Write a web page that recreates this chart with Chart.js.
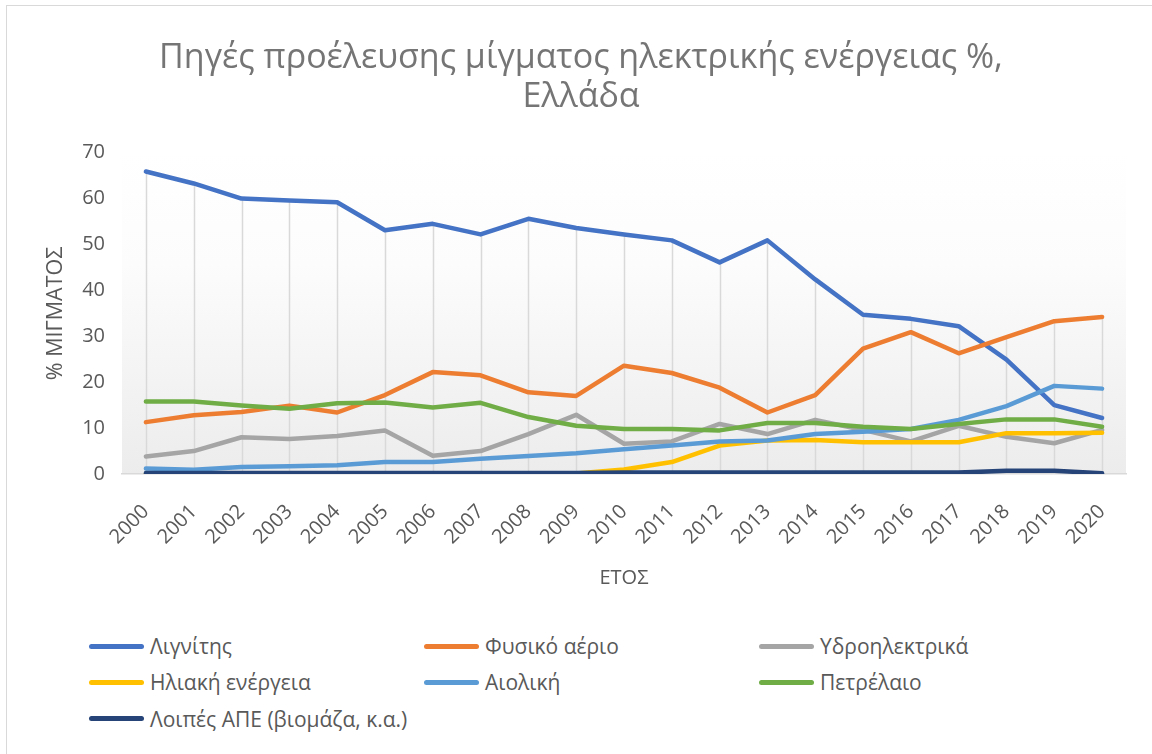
<!DOCTYPE html>
<html>
<head>
<meta charset="utf-8">
<script src="https://cdn.jsdelivr.net/npm/chart.js@4/dist/chart.umd.min.js"></script>
<style>
  html, body { margin: 0; padding: 0; background: #ffffff; width: 1152px; height: 754px; overflow: hidden; }
  #frame { position: absolute; left: 6px; top: 5px; width: 1200px; height: 800px; border: 1.5px solid #d9d9d9; box-sizing: border-box; }
  #wrap { position: absolute; left: 0; top: 0; width: 1162px; height: 610px; }
  #legend { position: absolute; left: 89px; top: 628px; display: grid; grid-template-columns: 335px 335px 335px;
            font-family: 'Open Sans', sans-serif; font-size: 21px; color: #595959; }
  .item { display: flex; align-items: center; height: 36.3px; white-space: nowrap; }
  .swatch { width: 55px; height: 5px; border-radius: 3px; margin-right: 6px; flex: none; }
</style>
</head>
<body>
<div id="frame"></div>
<div id="wrap"><canvas id="c"></canvas></div>
<div id="legend"></div>
<script>
// ---- data ----
const years = ['2000','2001','2002','2003','2004','2005','2006','2007','2008','2009','2010',
               '2011','2012','2013','2014','2015','2016','2017','2018','2019','2020'];
const lignite = [65.9, 63.3, 60.0, 59.6, 59.2, 53.1, 54.5, 52.2, 55.6, 53.6, 52.2, 50.9, 46.1, 50.9, 42.4, 34.7, 33.8, 32.2, 24.9, 15.0, 12.2];
const naturalGas = [11.3, 12.8, 13.5, 14.9, 13.4, 17.2, 22.2, 21.5, 17.8, 17.0, 23.6, 22.0, 18.8, 13.4, 17.2, 27.3, 30.9, 26.3, 29.8, 33.3, 34.2];
const hydro = [3.8, 5.0, 8.0, 7.6, 8.3, 9.5, 4.0, 5.0, 8.7, 12.9, 6.6, 7.1, 10.9, 8.7, 11.8, 9.6, 7.1, 10.5, 8.1, 6.7, 9.6];
const solar = [0, 0, 0, 0, 0, 0, 0, 0, 0, 0.1, 1.0, 2.6, 6.2, 7.3, 7.4, 6.9, 6.9, 6.9, 8.9, 8.9, 9.0];
const wind = [1.2, 0.9, 1.5, 1.7, 1.9, 2.6, 2.6, 3.3, 3.9, 4.5, 5.4, 6.2, 7.1, 7.3, 8.7, 9.2, 9.8, 11.8, 14.8, 19.2, 18.6];
const oil = [15.8, 15.8, 14.9, 14.2, 15.4, 15.6, 14.5, 15.5, 12.4, 10.5, 9.8, 9.8, 9.5, 11.1, 11.1, 10.3, 9.8, 10.9, 11.9, 11.9, 10.3];
const otherRes = [0.2, 0.2, 0.2, 0.2, 0.2, 0.2, 0.2, 0.2, 0.2, 0.2, 0.3, 0.3, 0.3, 0.3, 0.3, 0.3, 0.3, 0.3, 0.7, 0.7, 0.15];
const seriesNames = ['Λιγνίτης', 'Φυσικό αέριο', 'Υδροηλεκτρικά', 'Ηλιακή ενέργεια', 'Αιολική', 'Πετρέλαιο', 'Λοιπές ΑΠΕ (βιομάζα, κ.α.)'];
const titleLines = ['Πηγές προέλευσης μίγματος ηλεκτρικής ενέργειας %,', 'Ελλάδα'];
const xTitle = 'ΕΤΟΣ';
const yTitle = '% ΜΙΓΜΑΤΟΣ';
const yMin = 0, yMax = 70, yStep = 10;

// ---- styles ----
const seriesValues = [lignite, naturalGas, hydro, solar, wind, oil, otherRes];
const seriesColors = ['#4472C4', '#ED7D31', '#A5A5A5', '#FFC000', '#5B9BD5', '#70AD47', '#264478'];
const FONT = "'Open Sans', sans-serif";
const TEXT = '#595959';

const datasets = seriesValues.map((vals, i) => ({
  label: seriesNames[i],
  data: vals,
  borderColor: seriesColors[i],
  backgroundColor: seriesColors[i],
  borderWidth: 4.5,
  borderCapStyle: 'round',
  borderJoinStyle: 'round',
  pointRadius: 0,
  pointHoverRadius: 0,
  tension: 0,
  fill: false,
  yAxisID: 'y',
  order: seriesValues.length - i   // later series drawn on top, like the original
}));

const plotBackground = {
  id: 'plotBackground',
  beforeDraw(chart) {
    const { ctx, chartArea: a } = chart;
    const g = ctx.createLinearGradient(0, a.top, 0, a.bottom);
    g.addColorStop(0, '#ffffff');
    g.addColorStop(0.35, '#fcfcfc');
    g.addColorStop(1, '#ececec');
    ctx.save();
    ctx.fillStyle = g;
    ctx.fillRect(a.left, a.top, a.right - a.left, a.bottom - a.top);
    ctx.restore();
  }
};

// Excel-style drop lines: from the highest value of each category down to the axis
const dropLines = {
  id: 'dropLines',
  beforeDatasetsDraw(chart) {
    const { ctx, scales: { x, y } } = chart;
    ctx.save();
    ctx.strokeStyle = '#d9d9d9';
    ctx.lineWidth = 1.5;
    chart.data.labels.forEach((lab, idx) => {
      let m = -Infinity;
      chart.data.datasets.forEach(ds => { if (ds.data[idx] > m) m = ds.data[idx]; });
      const px = Math.round(x.getPixelForValue(idx)) + 0.5;
      ctx.beginPath();
      ctx.moveTo(px, y.getPixelForValue(m));
      ctx.lineTo(px, y.getPixelForValue(yMin));
      ctx.stroke();
    });
    ctx.restore();
  }
};

const chart = new Chart(document.getElementById('c'), {
  type: 'line',
  data: { labels: years, datasets },
  options: {
    responsive: true,
    maintainAspectRatio: false,
    animation: false,
    layout: { padding: { left: 0, right: 0, top: 0, bottom: 0 } },
    plugins: {
      legend: { display: false },
      tooltip: { enabled: false },
      title: {
        display: true,
        text: titleLines,
        color: '#757575',
        font: { family: FONT, size: 34, weight: 'normal', lineHeight: 1.15 },
        padding: { top: 38.5, bottom: 36 }
      }
    },
    scales: {
      x: {
        type: 'category',
        offset: true,
        grid: { display: false, drawTicks: false },
        border: { display: true, color: '#d9d9d9', width: 1.5 },
        ticks: {
          autoSkip: false, minRotation: 45, maxRotation: 45, padding: 26,
          color: TEXT, font: { family: FONT, size: 20 }
        },
        title: {
          display: true, text: xTitle, color: TEXT,
          font: { family: FONT, size: 20 }, padding: { top: 10, bottom: 20 }
        },
        afterFit(scale) { scale.height = 136; }
      },
      y: {
        position: 'left',
        min: yMin, max: yMax,
        grid: { display: false, drawTicks: false },
        border: { display: false },
        ticks: { stepSize: yStep, padding: 17, color: TEXT, font: { family: FONT, size: 20 } },
        title: {
          display: true, text: yTitle, color: TEXT,
          font: { family: FONT, size: 21.5 }, padding: { top: 43, bottom: 14 }
        },
        afterFit(scale) { scale.width = 122; }
      },
      // empty right-hand margin of the plot (no labels, no lines)
      yRight: {
        position: 'right',
        min: yMin, max: yMax,
        grid: { display: false, drawTicks: false },
        border: { display: false },
        ticks: { display: false },
        afterFit(scale) { scale.width = 36; }
      }
    }
  },
  plugins: [plotBackground, dropLines]
});

// HTML legend in a 3-column grid, generated from the chart's datasets
const legendEl = document.getElementById('legend');
chart.data.datasets.forEach(ds => {
  const item = document.createElement('div');
  item.className = 'item';
  const sw = document.createElement('span');
  sw.className = 'swatch';
  sw.style.background = ds.borderColor;
  const tx = document.createElement('span');
  tx.textContent = ds.label;
  item.appendChild(sw);
  item.appendChild(tx);
  legendEl.appendChild(item);
});
</script>
</body>
</html>
